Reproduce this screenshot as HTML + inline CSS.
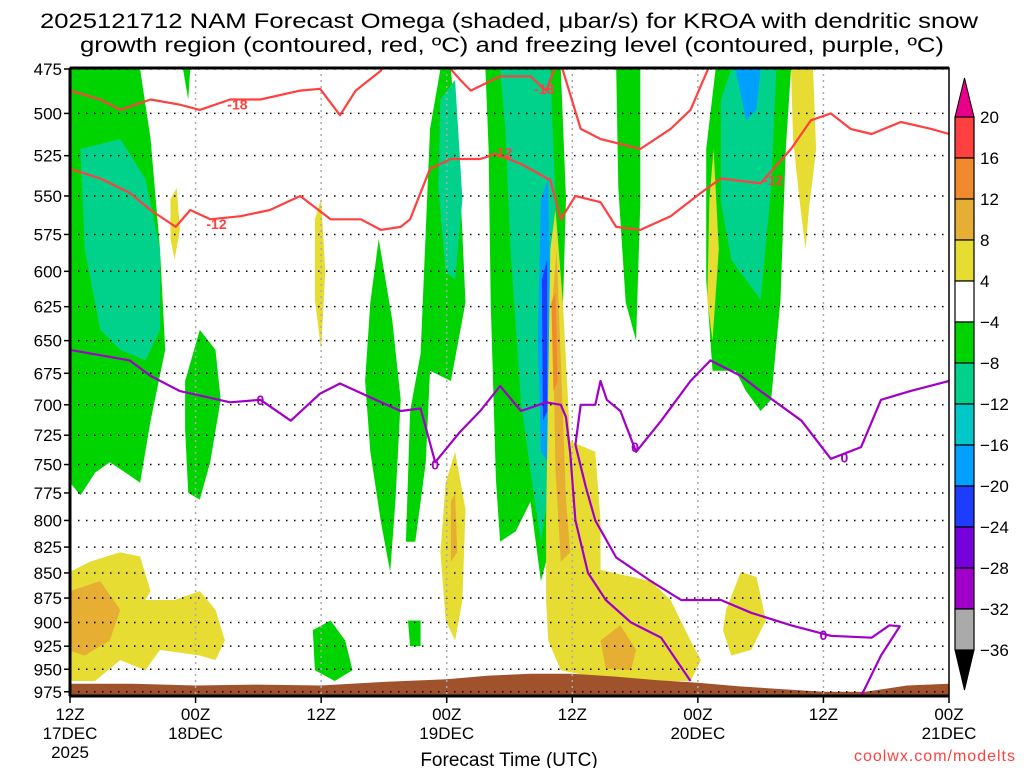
<!DOCTYPE html>
<html><head><meta charset="utf-8"><style>
html,body{margin:0;padding:0;background:#fff;}
svg{display:block;font-family:"Liberation Sans",sans-serif;}
</style></head><body>
<svg id="chart" width="1024" height="768" viewBox="0 0 1024 768">
<defs><clipPath id="pc"><rect x="70" y="68" width="879" height="628"/></clipPath></defs>
<text x="509" y="28" font-size="21" text-anchor="middle" textLength="938" lengthAdjust="spacingAndGlyphs">2025121712 NAM Forecast Omega (shaded, μbar/s) for KROA with dendritic snow</text>
<text x="512" y="52" font-size="21" text-anchor="middle" textLength="864" lengthAdjust="spacingAndGlyphs">growth region (contoured, red, ºC) and freezing level (contoured, purple, ºC)</text>
<g id="shade" clip-path="url(#pc)"></g>
<g id="grid"></g>
<g id="lines" clip-path="url(#pc)"></g>
<g id="axes"></g>
<g id="cbar"></g>
<text x="509" y="766" font-size="19" text-anchor="middle">Forecast Time (UTC)</text>
<text x="1016" y="761" font-size="16" fill="#ff4040" text-anchor="end" letter-spacing="1">coolwx.com/modelts</text>
</svg>
<script>
const pLevels=[475,500,525,550,575,600,625,650,675,700,725,750,775,800,825,850,875,900,925,950,975];
const xTickHours=[0,12,24,36,48,60,72,84];
const xTickLabels=[["12Z","17DEC","2025"],["00Z","18DEC"],["12Z"],["00Z","19DEC"],["12Z"],["00Z","20DEC"],["12Z"],["00Z","21DEC"]];
const cbLevels=[20,16,12,8,4,-4,-8,-12,-16,-20,-24,-28,-32,-36];
const cbColors=["#ff4040","#f08a2c","#e6ae32","#e6dc32","#ffffff","#00d400","#00d28c","#00c8c8","#00a0ff","#1e3cff","#7800dc","#a000c8","#aaaaaa"];
const sfcHours=[0,6,12,18,24,30,36,40,44,48,52,56,60,64,68,72,76,80,84];
const sfcPres=[966,966,968,967,968,964,961,957,955,955,958,962,965,969,972,975,975,968,966];
// shaded omega areas: [color, [[hour,hPa],...]]
const grnL=[[0,475],[6.7,475],[7.7,515],[8.6,585],[9.1,657],[7.7,713],[6.7,766],[5.3,757],[3.8,748],[2.4,757],[1,777],[0,766]];
const tealL=[[1,521],[4.8,515],[7.2,539],[8.6,585],[8.6,642],[7.2,665],[4.8,657],[2.9,642],[1.4,585]];
const grnB=[[11,681],[12.4,642],[13.9,657],[14.4,696],[13.4,748],[12.4,781],[11.3,775],[11,720]];
const grnS=[[10.8,475],[11.5,475],[11.3,492]];
const yelL=[[0,849],[1.9,839],[4.8,830],[6.7,834],[7.7,868],[7.2,877],[10,877],[12.4,868],[13.9,887],[14.8,919],[13.9,940],[12.4,935],[8.6,929],[7.2,951],[4.8,940],[2.4,963],[0,963]];
const oraL=[[0,868],[2.9,858],[4.8,887],[3.8,919],[1.4,935],[0,930]];
const yel2=[[9.6,552],[10.2,545],[10.5,572],[10,592],[9.6,578]];
const yel3=[[23.4,565],[24,552],[24.4,600],[24,657],[23.4,620]];
const grn9=[[23.2,908],[24.9,898],[26.3,919],[27,951],[25.3,963],[23.4,951]];
const grn10=[[32.3,898],[33.5,898],[33.5,925],[32.5,925]];
const grn11=[[28.7,622],[29.5,578],[30.8,635],[31.6,696],[31.1,783],[30.6,849],[29.7,801],[28.7,739],[28.2,681]];
const grn12=[[32.1,820],[32.5,705],[33.5,660],[34.4,509],[35.4,475],[36.4,475],[37.3,545],[37.8,622],[36.4,681],[34.4,673],[34,748],[33,820]];
const teal12=[[35.4,492],[36.8,481],[37.5,552],[36.8,606],[35.9,600],[35.2,545]];
const yel13=[[35.9,766],[36.8,739],[37.8,790],[37.5,877],[36.8,919],[35.9,898],[35.4,830]];
const ora13=[[36.4,783],[36.8,775],[37,830],[36.4,839]];
const grnC=[[39.7,475],[46.9,475],[47.4,552],[46.9,681],[46.4,763],[45.5,839],[45,858],[44,783],[42.6,810],[41.1,820],[40.7,763],[40.2,622],[40,521]];
const tealC=[[41.1,475],[45.9,475],[46.4,552],[46.4,681],[45.9,763],[45,820],[44,755],[43.1,698],[42.1,585],[41.6,509]];
const blueC=[[45,552],[45.7,539],[45.9,620],[45.7,748],[45,739],[44.7,650]];
const purpC=[[45.1,606],[45.6,592],[45.6,705],[45.2,713]];
const yelC=[[45.5,800],[45.9,585],[46.4,559],[47.1,622],[47.8,730],[50.2,739],[50.7,800],[50.7,847],[55.5,858],[57.4,877],[59.3,919],[60.3,940],[59.3,963],[55.5,963],[50.7,960],[46.9,951],[45.7,919],[45.5,877]];
const oraC=[[46.1,622],[46.5,585],[46.9,665],[47.4,781],[47.8,830],[46.9,839],[46.4,755]];
const redC=[[46,622],[46.4,615],[46.6,681],[46.2,689]];
const oraC2=[[50.7,919],[52.6,903],[54.1,929],[53.6,951],[51.2,949]];
const grn16=[[52.2,475],[54.5,475],[54.5,554],[54.1,650],[53.1,622],[52.4,545]];
const grnR=[[60.8,521],[61.7,475],[68.9,475],[68.4,521],[67.9,620],[67,696],[66,705],[64.6,689],[63.6,673],[61.4,673],[60.8,606]];
const tealR=[[62.2,492],[63.2,475],[67.5,475],[67,545],[66,620],[64.6,606],[63.2,592],[62.2,554]];
const blueR=[[63.6,475],[66,475],[65.6,498],[64.6,504]];
const yelR1=[[61.1,552],[61.5,521],[62,585],[61.4,650],[60.9,620]];
const yelR2=[[68.9,475],[71,475],[71.3,521],[70.6,559],[70.3,585],[69.7,552],[69.1,515]];
const yelR3=[[62.7,887],[64.1,849],[65.6,854],[66.5,898],[65.1,929],[63.2,935],[62.4,908]];
// contour lines [hour,hPa]
const red18a=[[0,487],[2.9,492],[4.8,498],[7.7,492],[10.5,495],[12.4,498],[15.3,492],[18.2,492],[22,487],[23.9,486],[25.8,501],[27.3,487],[29.7,476],[30,472]];
const red18b=[[35.9,472],[37.3,481],[38.3,487],[41.1,479],[44,479],[45.5,487],[46.5,472]];
const red12a=[[0,533],[2.9,539],[5.7,548],[7.7,559],[10.1,570],[11.5,559],[13.4,565],[16.3,563],[19.1,559],[22,550],[24.9,565],[27.8,565],[29.7,572],[31.6,570],[32.5,565],[34.4,533],[36.4,527],[39.2,527],[40.7,524],[43.1,530],[45.9,540],[46.9,565],[48.3,550],[50.7,554],[52.2,570],[54.5,572],[57.4,563],[60.3,548],[62.2,539],[66,542],[68.9,521],[70.8,504],[72.7,500],[74.6,509],[76.6,512],[79.4,505],[82.3,509],[84,512]];
const red12b=[[46.9,472],[48.8,509],[50.7,515],[54.5,521],[57.4,509],[59.3,498],[61.2,472]];
const pur1=[[0,657],[2.9,661],[5.7,665],[7.7,677],[10.5,689],[15.3,698],[18.2,696],[21.1,713],[23.9,691],[25.8,683],[28.7,694],[31.6,705],[33.5,703],[34.9,748],[37.3,722],[39.2,705],[41.1,685],[43.1,705],[45.5,698],[46.9,700],[47.4,710],[47.8,740],[48.3,800],[49.5,850],[51.2,877],[53.6,900],[56.5,916],[59.3,963]];
const pur2=[[84,681],[80.3,689],[77.5,696],[75.6,735],[72.7,745],[69.9,713],[66,689],[64.1,677],[61.2,665],[59.3,681],[56.5,713],[54.1,739],[52.6,705],[51.3,696],[50.7,681],[50.2,700],[48.8,700],[48.3,733],[49.3,770],[50.2,800],[52.2,835],[55.5,858],[58.4,877],[62.2,877],[65.1,890],[68.9,903],[72.7,914],[76.6,916],[78.3,903],[79.3,904],[77.5,935],[75.6,980]];
const cLabels=[["-18",16,495,"#ff4040"],["-12",14,568,"#ff4040"],["-12",41.3,523,"#ff4040"],["-18",45.3,486,"#ff4040"],["-12",67.2,540,"#ff4040"],["0",18.2,696,"#a000c8"],["0",34.9,750,"#a000c8"],["0",54,735,"#a000c8"],["0",74,744,"#a000c8"],["0",72,913,"#a000c8"]];

const NS="http://www.w3.org/2000/svg";
const X0=70,X1=949,Y0=69,YB=866;
const xs=h=>X0+(X1-X0)*h/84;
const ys=p=>Y0+YB*Math.log(p/475);
function mk(tag,attrs,parent){const e=document.createElementNS(NS,tag);for(const k in attrs)e.setAttribute(k,attrs[k]);parent.appendChild(e);return e;}
const pts=a=>a.map(q=>xs(q[0]).toFixed(1)+","+ys(q[1]).toFixed(1)).join(" ");
const shade=document.getElementById('shade');
const G="#00d400",T="#00d28c",C="#00c8c8",B="#1e3cff",Y="#e6dc32",O="#e6ae32",R="#ff4040",P="#7800dc";
const areas=[[grnL,G],[tealL,T],[grnB,G],[grnS,G],[grn9,G],[grn10,G],[grn11,G],[grn12,G],[teal12,T],[grnC,G],[tealC,T],[blueC,"#00a0ff"],[purpC,B],[grn16,G],[grnR,G],[tealR,T],[blueR,"#00a0ff"],[yelL,Y],[oraL,O],[yel2,Y],[yel3,Y],[yel13,Y],[ora13,O],[yelC,Y],[oraC,O],[redC,"#f08a2c"],[oraC2,O],[yelR1,Y],[yelR2,Y],[yelR3,Y]];
areas.forEach((a,i)=>{const e=mk('polygon',{points:pts(a[0]),fill:a[1]},shade);

});
// terrain
let tp=sfcHours.map((h,i)=>[h,sfcPres[i]]);
const terr=mk('polygon',{points:pts(tp)+" "+xs(84)+","+ys(990)+" "+xs(0)+","+ys(990),fill:"#a0522d"},shade);


// grid
const grid=document.getElementById('grid');
pLevels.forEach(p=>{const l=mk('line',{x1:X0,x2:X1,y1:ys(p),y2:ys(p),stroke:"#000","stroke-width":1.5,"stroke-dasharray":"1.5 6.5"},grid);

});
xTickHours.slice(1,-1).forEach(h=>{const l=mk('line',{x1:xs(h),x2:xs(h),y1:68,y2:696,stroke:"#aaa","stroke-width":1.5,"stroke-dasharray":"2 4"},grid);

});
// contour lines
const lines=document.getElementById('lines');
[[red18a,R],[red18b,R],[red12a,R],[red12b,R],[pur1,"#a000c8"],[pur2,"#a000c8"]].forEach((l,i)=>{const e=mk('polyline',{points:pts(l[0]),fill:"none",stroke:l[1],"stroke-width":2.2,"stroke-linejoin":"round"},lines);

});
cLabels.forEach(c=>{const x=xs(c[1]),y=ys(c[2]);
const bg=mk('rect',{x:x-11,y:y-7,width:22,height:14,fill:"none"},lines);
const t=mk('text',{x:x,y:y+5,"font-size":14,"font-weight":"bold",fill:c[3],"text-anchor":"middle"},lines);t.textContent=c[0];

});
// axes
const ax=document.getElementById('axes');
mk('rect',{x:X0,y:68,width:X1-X0,height:628,fill:"none",stroke:"#000","stroke-width":1.5},ax);
mk('line',{x1:X0,x2:X1,y1:68,y2:68,stroke:"#000","stroke-width":3},ax);
mk('line',{x1:X0,x2:X1,y1:696,y2:696,stroke:"#000","stroke-width":3},ax);
mk('line',{x1:X0,x2:X0,y1:68,y2:696,stroke:"#000","stroke-width":3},ax);
pLevels.forEach(p=>{mk('line',{x1:X0-6,x2:X0,y1:ys(p),y2:ys(p),stroke:"#000","stroke-width":1.5},ax);
const t=mk('text',{x:X0-8,y:ys(p)+6,"font-size":17,"text-anchor":"end"},ax);t.textContent=p;

});
xTickHours.forEach((h,i)=>{mk('line',{x1:xs(h),x2:xs(h),y1:696,y2:703,stroke:"#000","stroke-width":1.5},ax);
xTickLabels[i].forEach((s,j)=>{const t=mk('text',{x:xs(h),y:720+j*19,"font-size":17,"text-anchor":"middle"},ax);t.textContent=s;

});});
// colorbar
const cb=document.getElementById('cbar');
const cy=i=>117+i*(650-117)/(cbLevels.length-1);
mk('polygon',{points:`955,117 974,117 964.5,78`,fill:"#e8008a",stroke:"#000"},cb);
cbColors.forEach((c,i)=>{const r=mk('rect',{x:955,y:cy(i),width:19,height:cy(i+1)-cy(i),fill:c,stroke:"#000","stroke-width":1.2},cb);

});
mk('polygon',{points:`955,650 974,650 964.5,690`,fill:"#000",stroke:"#000"},cb);
cbLevels.forEach((v,i)=>{const t=mk('text',{x:980,y:cy(i)+6,"font-size":17},cb);t.textContent=v<0?"\u2212"+(-v):v;

});
</script>
</body></html>
